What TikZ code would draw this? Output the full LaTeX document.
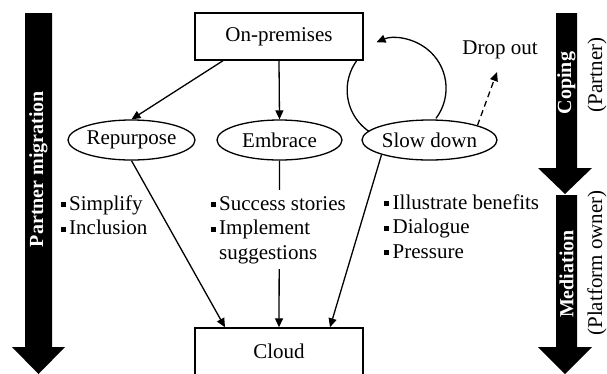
\documentclass[tikz,border=0pt]{standalone}
\usepackage{fontspec}
\setmainfont{Liberation Serif}
\usetikzlibrary{arrows.meta,shapes.geometric,calc}
\newcommand{\bulsq}{\raisebox{3pt}{\rule{5pt}{5pt}}\hspace{3.5pt}}
\begin{document}
\begin{tikzpicture}[x=1pt,y=1pt,
  every node/.style={font=\fontsize{21}{24.5}\selectfont},
  box/.style={draw,line width=1.4pt,minimum width=168pt,minimum height=47pt,inner sep=0pt},
  oval/.style={draw,ellipse,line width=1.3pt,minimum height=40pt,inner sep=0pt},
  conn/.style={line width=1.3pt,-{Triangle[length=9pt,width=8pt]}},
  plainline/.style={line width=1.3pt},
  bigarrow/.style={fill=black},
  arrowlabel/.style={rotate=90,text=white,font=\fontsize{20}{24}\selectfont\bfseries},
  sidelabel/.style={rotate=90,inner sep=0pt},
  bullets/.style={anchor=base west,inner sep=0pt,align=left}
]
\useasboundingbox (0,0) rectangle (607,-373);

% big side arrows
\fill[bigarrow] (25,-13) -- (52,-13) -- (52,-347) -- (65,-347) -- (38.5,-374) -- (12,-347) -- (25,-347) -- cycle;
\fill[bigarrow] (556,-13) -- (577,-13) -- (577,-168) -- (592,-168) -- (565,-194) -- (538,-168) -- (556,-168) -- cycle;
\fill[bigarrow] (556,-195) -- (577,-195) -- (577,-347) -- (592,-347) -- (565,-374) -- (538,-347) -- (556,-347) -- cycle;

\node[arrowlabel] (lpm) at (38.5,-169) {Partner migration};
\node[arrowlabel] (lcop) at (566.5,-83) {Coping};
\node[arrowlabel] (lmed) at (566.5,-274) {Mediation};
\node[sidelabel] (lpar) at (597,-75) {(Partner)};
\node[sidelabel] (lpo) at (597,-263) {(Platform owner)};

% main nodes
\node[box] (onp) at (279,-36.5) {On-premises};
\node[box] (cloud) at (279,-351.5) {Cloud};
\node[oval,minimum width=127pt] (rep) at (131.5,-140) {Repurpose};
\node[oval,minimum width=125pt] (emb) at (279.5,-140) {Embrace};
\node[oval,minimum width=135pt] (slow) at (429.5,-140) {Slow down};
\node (drop) at (500,-50) {Drop out};
\coordinate (dropend) at (497,-72);

% connectors
\draw[conn] ($(onp.south)+(-56,0)$) -- (rep.north);
\draw[conn] (onp.south) -- (emb.north);
\draw[plainline] ($(onp.south east)+(-7,0)$) arc[start angle=144,end angle=236,radius=50pt];
\draw[conn] ($(slow.north)+(6.5,1)$) arc[start angle=-37,end angle=113,radius=50pt];
\draw[conn,dash pattern=on 6pt off 4pt] (slow.17) -- (dropend);
\draw[conn] (rep.south) -- ($(cloud.north)+(-54,0)$);
\draw[conn] (emb.south) -- (cloud.north);

% bullet lists
\node[bullets] (b1) at (60.5,-210) {\begin{tabular}[t]{@{}l@{}}\bulsq Simplify\\ \bulsq Inclusion\end{tabular}};
\node[bullets,fill=white,inner sep=3pt] (b2) at (207.5,-210) {\begin{tabular}[t]{@{}l@{}}\bulsq Success stories\\ \bulsq Implement\\ \phantom{\bulsq}suggestions\end{tabular}};
\node[bullets] (b3) at (384,-209) {\begin{tabular}[t]{@{}l@{}}\bulsq Illustrate benefits\\ \bulsq Dialogue\\ \bulsq Pressure\end{tabular}};

\draw[conn] (slow.197) -- ($(cloud.north)+(51,0)$);
\end{tikzpicture}
\end{document}
